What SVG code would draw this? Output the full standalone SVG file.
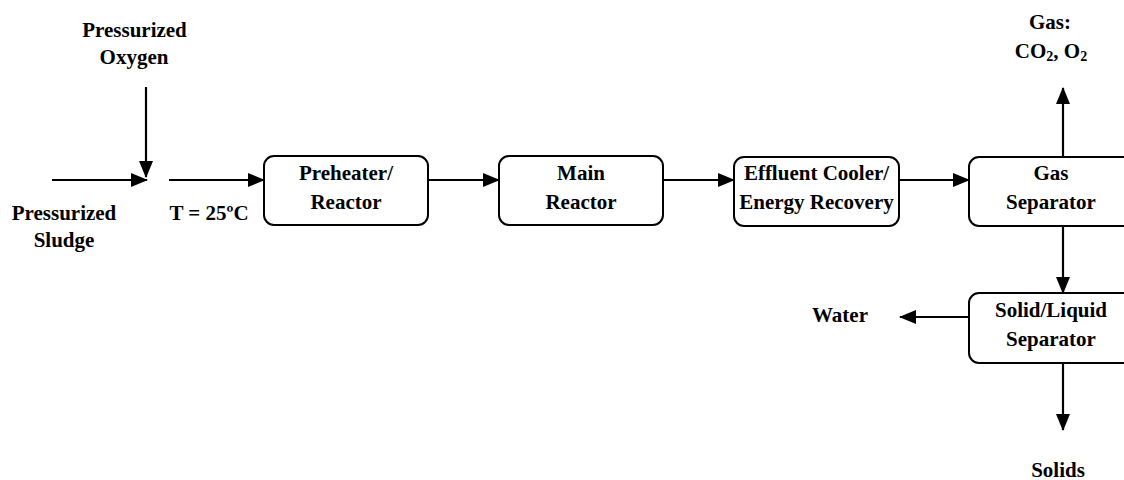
<svg xmlns="http://www.w3.org/2000/svg" width="1124" height="480" viewBox="0 0 1124 480">
<style>
.box{fill:#fff;stroke:#000;stroke-width:2}
.ln{fill:none;stroke:#000;stroke-width:2.2;marker-end:url(#ah)}
text{font-family:"Liberation Serif","Times New Roman",serif;font-weight:bold;font-size:21px;fill:#000;text-anchor:middle}
.sub{font-size:14px}
</style>
<defs>
<marker id="ah" markerUnits="userSpaceOnUse" markerWidth="17" markerHeight="14" refX="16" refY="7" orient="auto">
<path d="M0,0 L17,7 L0,14 Z" fill="#000"/>
</marker>
</defs>
<rect width="1124" height="480" fill="#fff"/>
<g id="connectors">
<line class="ln" x1="52" y1="180" x2="147" y2="180"/>
<line class="ln" x1="146" y1="87" x2="146" y2="177"/>
<line class="ln" x1="169" y1="180" x2="264" y2="180"/>
<line class="ln" x1="428" y1="180" x2="499" y2="180"/>
<line class="ln" x1="663" y1="180" x2="734" y2="180"/>
<line class="ln" x1="899" y1="180" x2="969" y2="180"/>
<line class="ln" x1="1063" y1="157" x2="1063" y2="88"/>
<line class="ln" x1="1063" y1="226" x2="1063" y2="293"/>
<line class="ln" x1="969" y1="317" x2="900" y2="317"/>
<line class="ln" x1="1063" y1="363" x2="1063" y2="430"/>
</g>
<g id="label-oxygen">
<text x="134.5" y="37">Pressurized</text>
<text x="134" y="64">Oxygen</text>
</g>
<g id="label-sludge">
<text x="64" y="220">Pressurized</text>
<text x="64" y="247">Sludge</text>
</g>
<g id="label-temp">
<text x="209" y="220">T = 25ºC</text>
</g>
<g id="preheater">
<rect class="box" x="264" y="156" width="164" height="69" rx="10"/>
<text x="346" y="180">Preheater/</text>
<text x="346" y="209">Reactor</text>
</g>
<g id="main-reactor">
<rect class="box" x="499" y="156" width="164" height="69" rx="10"/>
<text x="581" y="180">Main</text>
<text x="581" y="209">Reactor</text>
</g>
<g id="effluent-cooler">
<rect class="box" x="734" y="157" width="165" height="69" rx="10"/>
<text x="816.5" y="180">Effluent Cooler/</text>
<text x="816.5" y="209">Energy Recovery</text>
</g>
<g id="gas-separator">
<rect class="box" x="969" y="157" width="164" height="69" rx="10"/>
<text x="1051" y="180">Gas</text>
<text x="1051" y="209">Separator</text>
</g>
<g id="solid-liquid-separator">
<rect class="box" x="969" y="293" width="164" height="70" rx="10"/>
<text x="1051" y="317">Solid/Liquid</text>
<text x="1051" y="346">Separator</text>
</g>
<g id="label-gas">
<text x="1050" y="29">Gas:</text>
<text x="1051" y="58">CO<tspan class="sub" dy="3">2</tspan><tspan dy="-3">, O</tspan><tspan class="sub" dy="3">2</tspan></text>
</g>
<g id="label-water">
<text x="840" y="322">Water</text>
</g>
<g id="label-solids">
<text x="1058" y="477">Solids</text>
</g>
</svg>
